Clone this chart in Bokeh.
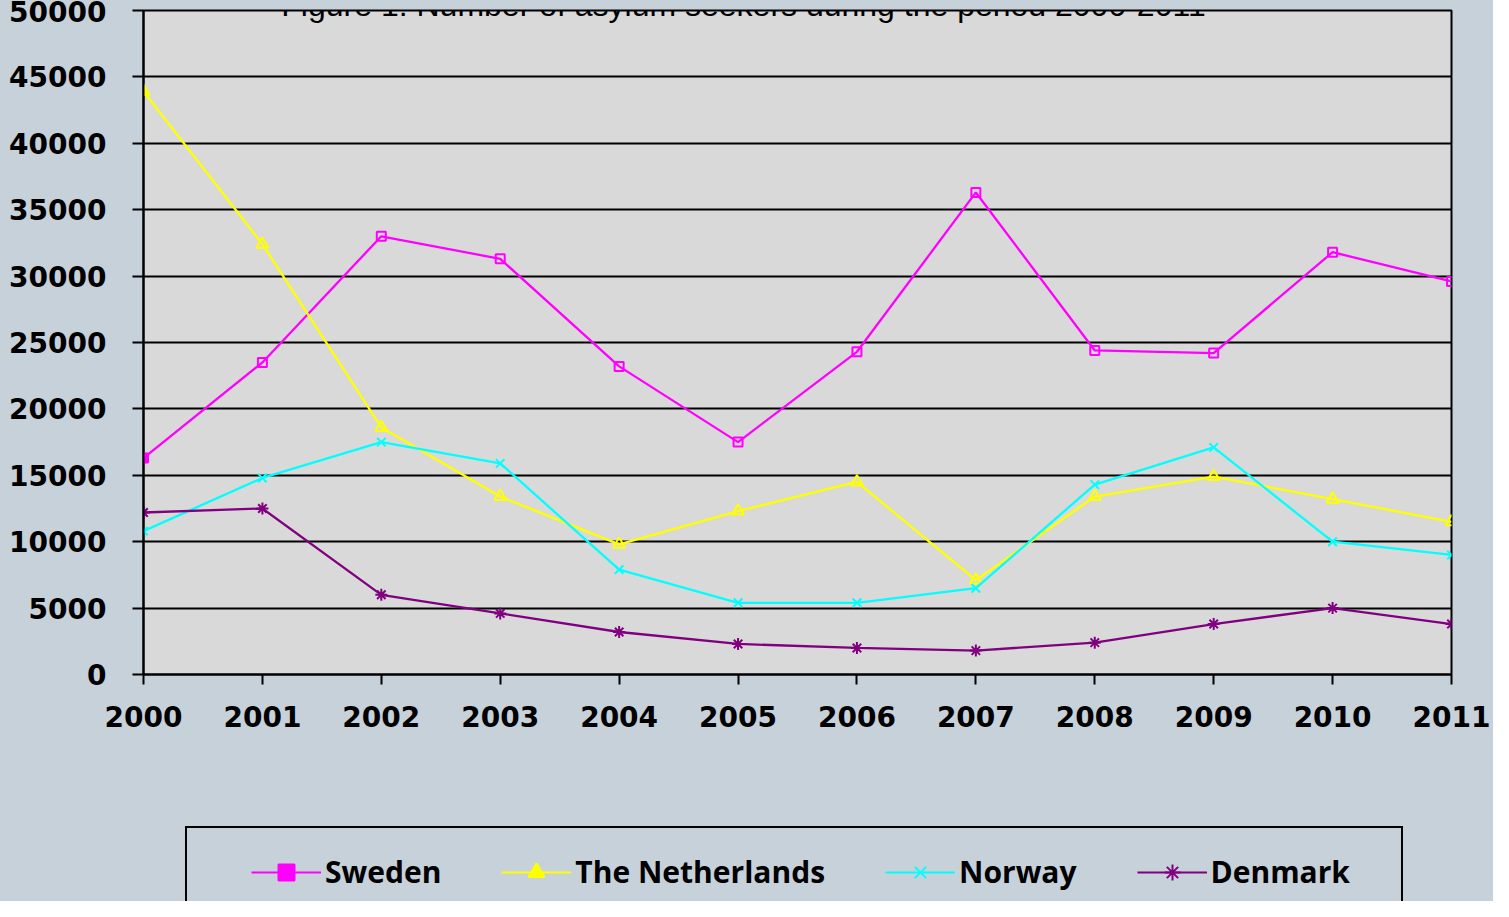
from bokeh.plotting import figure
from bokeh.layouts import column
from bokeh.models import (Legend, LegendItem, Label, FixedTicker, Range1d,
                          ColumnDataSource)
from bokeh.embed import file_html
from bokeh.resources import INLINE

years = list(range(2000, 2012))
sweden = [16300, 23500, 33000, 31300, 23200, 17500, 24300, 36300, 24400, 24200, 31800, 29600]
netherlands = [43900, 32400, 18600, 13400, 9800, 12300, 14500, 7100, 13400, 14900, 13200, 11500]
norway = [10800, 14800, 17500, 15900, 7900, 5400, 5400, 6500, 14300, 17100, 10000, 9000]
denmark = [12200, 12500, 6000, 4600, 3200, 2300, 2000, 1800, 2400, 3800, 5000, 3800]
series_names = ["Sweden", "The Netherlands", "Norway", "Denmark"]
y_ticks = list(range(0, 50001, 5000))
title_text = "Figure 1: Number of asylum seekers during the period 2000-2011"

BG = "#C6D1D9"
PLOT_BG = "#D9D9D9"

colors = ["#FF00FF", "#FFFF00", "#00FFFF", "#800080"]
markers = ["square", "triangle", "x", "asterisk"]
sizes = [9, 12, 12, 12]
data = [sweden, netherlands, norway, denmark]
first_filled = [1] + [0] * (len(years) - 1)

p = figure(width=1493, height=752, output_backend="svg", toolbar_location=None,
           x_range=Range1d(2000, 2011), y_range=Range1d(0, 50000),
           min_border_left=143, min_border_right=42, min_border_top=10,
           min_border_bottom=78)
p.border_fill_color = BG
p.background_fill_color = PLOT_BG
p.outline_line_color = "black"
p.outline_line_width = 2

p.xgrid.grid_line_color = None
p.ygrid.grid_line_color = "black"
p.ygrid.grid_line_width = 2
p.ygrid.ticker = FixedTicker(ticks=y_ticks)

p.yaxis.ticker = FixedTicker(ticks=y_ticks)
p.xaxis.ticker = FixedTicker(ticks=years)
for ax in (p.xaxis[0], p.yaxis[0]):
    ax.axis_line_color = "black"
    ax.axis_line_width = 2
    ax.major_tick_line_color = "black"
    ax.major_tick_line_width = 2
    ax.major_tick_in = 0
    ax.minor_tick_line_color = None
    ax.major_label_text_font = "DejaVu Sans"
    ax.major_label_text_font_style = "bold"
    ax.major_label_text_font_size = "28px"
    ax.major_label_text_color = "black"
p.yaxis.major_tick_out = 11
p.yaxis.major_label_standoff = 26
p.xaxis.major_tick_out = 10
p.xaxis.major_label_standoff = 21

for name, vals, c, m, s in zip(series_names, data, colors, markers, sizes):
    src = ColumnDataSource(dict(x=years, y=vals, fa=first_filled))
    p.line("x", "y", source=src, line_color=c, line_width=2.3)
    p.scatter("x", "y", source=src, marker=m, size=s, line_color=c,
              line_width=2, fill_color=c, fill_alpha="fa")

title = Label(x=600, y=670, x_units="screen", y_units="screen", text=title_text,
              text_font="Liberation Sans", text_font_style="normal",
              text_font_size="32px", text_align="center",
              text_baseline="alphabetic", text_color="black")
p.add_layout(title)

# legend strip below the chart (same frame borders so the column keeps alignment)
lf = figure(width=1493, height=149, output_backend="svg", toolbar_location=None,
            x_range=Range1d(2000, 2011), y_range=Range1d(-2, -1),
            x_axis_location=None, y_axis_location=None,
            min_border_left=143, min_border_right=42, min_border_top=0,
            min_border_bottom=0)
lf.border_fill_color = BG
lf.background_fill_color = None
lf.outline_line_color = None
lf.xgrid.grid_line_color = None
lf.ygrid.grid_line_color = None

items = []
box_renderer = None
for name, vals, c, m, s in zip(series_names, data, colors, markers, sizes):
    src = ColumnDataSource(dict(x=years, y=vals))
    lr = lf.line("x", "y", source=src, line_color=c, line_width=2)
    sr = lf.scatter("x", "y", source=src, marker=m, size=s + 2, line_color=c,
                    line_width=2, fill_color=c)
    if box_renderer is None:
        box_renderer = lf.line("x", "y", source=src, line_alpha=0)
    items.append(LegendItem(label=name, renderers=[lr, sr]))

box = Legend(items=[LegendItem(label=" ", renderers=[box_renderer])],
             orientation="horizontal", location=(42, -3),
             glyph_width=0, glyph_height=74, label_standoff=0,
             label_width=1214, label_height=74, padding=0, margin=0,
             spacing=0, border_line_color="black", border_line_width=2,
             border_line_alpha=1.0,
             background_fill_color=BG, background_fill_alpha=1,
             label_text_font_size="1px")
lf.add_layout(box, "center")

legend = Legend(items=items, orientation="horizontal", location=(108, 9),
                glyph_width=70, glyph_height=40, label_standoff=4, spacing=60,
                label_height=40, padding=0, margin=0, border_line_color=None,
                background_fill_alpha=0,
                label_text_font="Open Sans", label_text_font_style="bold",
                label_text_font_size="30px", label_text_color="black")
lf.add_layout(legend, "center")

layout = column(p, lf, spacing=0, styles={"background-color": BG})
open("out.html", "w").write(file_html(layout, INLINE))
